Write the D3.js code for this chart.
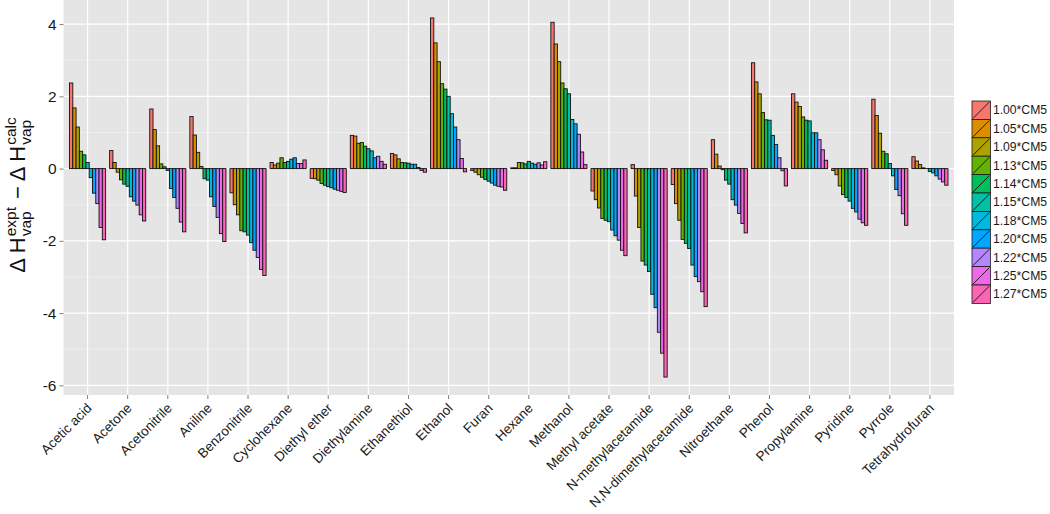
<!DOCTYPE html>
<html><head><meta charset="utf-8">
<script src="https://cdn.jsdelivr.net/npm/d3@7"></script>
<style>
body{margin:0;background:#fff;}
svg{display:block;font-family:"Liberation Sans",Arial,Helvetica,sans-serif;}
</style>
</head><body>
<svg id="chart" width="1050" height="514"></svg>
<script>
// ---------- DATA ----------
const categories = ["Acetic acid","Acetone","Acetonitrile","Aniline","Benzonitrile","Cyclohexane",
  "Diethyl ether","Diethylamine","Ethanethiol","Ethanol","Furan","Hexane","Methanol","Methyl acetate",
  "N-methylacetamide","N,N-dimethylacetamide","Nitroethane","Phenol","Propylamine","Pyridine","Pyrrole",
  "Tetrahydrofuran"];
const seriesLabels = ["1.00*CM5","1.05*CM5","1.09*CM5","1.13*CM5","1.14*CM5","1.15*CM5",
  "1.18*CM5","1.20*CM5","1.22*CM5","1.25*CM5","1.27*CM5"];
const seriesColors = ["#F8766D","#DB8E00","#AEA200","#64B200","#00BD5C","#00C1A7",
  "#00BADE","#00A6FF","#B385FF","#EF67EB","#FF63B6"];
const yTicks = [-6,-4,-2,0,2,4];
const yMinorTicks = [-5,-3,-1,1,3];

// values per category, one per series (1.00 ... 1.27 *CM5)
const aceticAcid      = [2.37, 1.68, 1.15, 0.48, 0.38, 0.17, -0.25, -0.68, -0.97, -1.63, -1.97];
const acetone         = [0.50, 0.17, -0.10, -0.31, -0.43, -0.49, -0.78, -0.90, -1.01, -1.28, -1.45];
const acetonitrile    = [1.65, 1.08, 0.63, 0.13, 0.05, -0.05, -0.55, -0.80, -1.10, -1.48, -1.75];
const aniline         = [1.44, 0.93, 0.45, 0.06, -0.28, -0.32, -0.78, -1.05, -1.35, -1.80, -2.02];
const benzonitrile    = [-0.67, -1.00, -1.28, -1.72, -1.75, -1.84, -2.05, -2.26, -2.46, -2.79, -2.96];
const cyclohexane     = [0.17, 0.10, 0.15, 0.30, 0.17, 0.20, 0.26, 0.30, 0.14, 0.14, 0.24];
const diethylEther    = [-0.27, -0.28, -0.32, -0.41, -0.46, -0.50, -0.53, -0.57, -0.60, -0.63, -0.66];
const diethylamine    = [0.92, 0.90, 0.70, 0.72, 0.62, 0.55, 0.49, 0.30, 0.34, 0.20, 0.12];
const ethanethiol     = [0.42, 0.38, 0.27, 0.17, 0.16, 0.15, 0.12, 0.12, 0.03, -0.05, -0.10];
const ethanol         = [4.17, 3.48, 2.96, 2.35, 2.20, 2.00, 1.52, 1.15, 0.80, 0.28, -0.09];
const furan           = [-0.05, -0.10, -0.17, -0.24, -0.30, -0.35, -0.40, -0.46, -0.49, -0.51, -0.60];
const hexane          = [0.02, 0.02, 0.17, 0.16, 0.13, 0.20, 0.15, 0.12, 0.16, 0.10, 0.19];
const methanol        = [4.05, 3.45, 2.96, 2.37, 2.21, 2.07, 1.36, 1.24, 0.95, 0.46, 0.11];
const methylAcetate   = [-0.62, -0.86, -1.09, -1.38, -1.43, -1.47, -1.70, -1.86, -1.98, -2.26, -2.41];
const nMethylacetamide   = [0.11, -0.76, -1.63, -2.56, -2.67, -2.85, -3.48, -3.85, -4.53, -5.11, -5.77];
const nnDimethylacetamide = [-0.44, -0.97, -1.43, -1.96, -2.07, -2.21, -2.67, -2.99, -3.13, -3.41, -3.82];
const nitroethane     = [0.80, 0.40, 0.07, -0.03, -0.32, -0.43, -0.86, -1.01, -1.24, -1.52, -1.78];
const phenol          = [2.93, 2.40, 2.07, 1.55, 1.35, 1.34, 0.92, 0.67, 0.30, -0.06, -0.48];
const propylamine     = [2.07, 1.84, 1.72, 1.43, 1.34, 1.32, 0.99, 0.99, 0.80, 0.52, 0.23];
const pyridine        = [-0.05, -0.17, -0.48, -0.72, -0.80, -0.90, -1.10, -1.20, -1.40, -1.50, -1.57];
const pyrrole         = [1.92, 1.47, 0.98, 0.48, 0.41, 0.14, -0.20, -0.58, -0.75, -1.25, -1.57];
const tetrahydrofuran = [0.33, 0.21, 0.11, 0.02, 0.00, -0.08, -0.12, -0.20, -0.29, -0.37, -0.46];

const valuesByCategory = [aceticAcid, acetone, acetonitrile, aniline, benzonitrile, cyclohexane,
  diethylEther, diethylamine, ethanethiol, ethanol, furan, hexane, methanol, methylAcetate,
  nMethylacetamide, nnDimethylacetamide, nitroethane, phenol, propylamine, pyridine, pyrrole,
  tetrahydrofuran];

// ---------- LAYOUT ----------
const svg = d3.select("#chart");
const panel = {left: 63.5, right: 954, top: 0, bottom: 395};

const rows = [];
categories.forEach((c, i) => {
  valuesByCategory[i].forEach((v, j) => rows.push({cat: c, series: seriesLabels[j], value: v}));
});

const x = d3.scaleBand().domain(categories)
  .range([panel.left, panel.right]).paddingInner(0).paddingOuter(0.1);
const xInner = d3.scaleBand().domain(seriesLabels)
  .range([x.bandwidth()*0.05, x.bandwidth()*0.95]).padding(0);
const yExt = d3.extent(rows, d => d.value);
const ySpan = yExt[1] - yExt[0];
const y = d3.scaleLinear().domain([yExt[0] - 0.05*ySpan, yExt[1] + 0.05*ySpan])
  .range([panel.bottom, panel.top]);
const color = d3.scaleOrdinal().domain(seriesLabels).range(seriesColors);

// panel background
svg.append("rect").attr("x", panel.left).attr("y", panel.top)
  .attr("width", panel.right - panel.left).attr("height", panel.bottom - panel.top)
  .attr("fill", "#E5E5E5");

// grid
const grid = svg.append("g");
grid.selectAll(".ymin").data(yMinorTicks).join("line")
  .attr("x1", panel.left).attr("x2", panel.right)
  .attr("y1", d => y(d)).attr("y2", d => y(d))
  .attr("stroke", "#F2F2F2").attr("stroke-width", 0.6);
grid.selectAll(".ymaj").data(yTicks).join("line")
  .attr("x1", panel.left).attr("x2", panel.right)
  .attr("y1", d => y(d)).attr("y2", d => y(d))
  .attr("stroke", "#FFFFFF").attr("stroke-width", 1.2);
grid.selectAll(".xmaj").data(categories).join("line")
  .attr("x1", d => x(d) + x.bandwidth()/2).attr("x2", d => x(d) + x.bandwidth()/2)
  .attr("y1", panel.top).attr("y2", panel.bottom)
  .attr("stroke", "#FFFFFF").attr("stroke-width", 1.2);

// bars
svg.append("g").selectAll("rect").data(rows).join("rect")
  .attr("x", d => x(d.cat) + xInner(d.series))
  .attr("width", xInner.bandwidth())
  .attr("y", d => Math.min(y(d.value), y(0)))
  .attr("height", d => Math.max(Math.abs(y(d.value) - y(0)), 0.01))
  .attr("fill", d => color(d.series))
  .attr("stroke", "#111").attr("stroke-width", 0.9);

// axes
const yAxis = svg.append("g").attr("transform", `translate(${panel.left},0)`)
  .call(d3.axisLeft(y).tickValues(yTicks).tickSize(4).tickPadding(3).tickFormat(d => String(d)));
yAxis.select(".domain").remove();
yAxis.selectAll(".tick line").attr("stroke", "#7f7f7f");
yAxis.selectAll(".tick text").attr("fill", "#1a1a1a").style("font-size", "15.5px")
  .style("font-family", '"Liberation Sans",Arial,sans-serif');

const xAxis = svg.append("g").attr("transform", `translate(0,${panel.bottom})`)
  .call(d3.axisBottom(x).tickSize(4).tickPadding(2));
xAxis.select(".domain").remove();
xAxis.selectAll(".tick line").attr("stroke", "#7f7f7f");
xAxis.selectAll(".tick text")
  .attr("fill", "#1a1a1a").style("font-size", "13.5px")
  .style("font-family", '"Liberation Sans",Arial,sans-serif')
  .attr("text-anchor", "end").attr("dy", null).attr("y", 0)
  .attr("transform", "translate(5,14) rotate(-45)");

// y-axis title with stacked sub/superscripts
const tg = svg.append("g").attr("transform", "translate(25,195) rotate(-90)");
const mainSize = 22, scriptSize = 15.5;
const parts = [
  {t: "\u0394 H", sup: "expt", sub: "vap", gapBefore: 0},
  {t: "\u2212  \u0394 H", sup: "calc", sub: "vap", gapBefore: 8}
];
let cursor = 0;
parts.forEach(p => {
  cursor += p.gapBefore;
  const m = tg.append("text").attr("x", cursor).attr("y", 0)
    .style("font-size", mainSize + "px").attr("fill", "#111").text(p.t);
  cursor += m.node().getComputedTextLength() + 1;
  const sp = tg.append("text").attr("x", cursor).attr("y", -9)
    .style("font-size", scriptSize + "px").attr("fill", "#111").text(p.sup);
  const sb = tg.append("text").attr("x", cursor).attr("y", 6)
    .style("font-size", scriptSize + "px").attr("fill", "#111").text(p.sub);
  cursor += Math.max(sp.node().getComputedTextLength(), sb.node().getComputedTextLength());
});
tg.selectAll("text").attr("transform", `translate(${-cursor/2},0)`);

// legend
const key = 18.4;
const leg = svg.append("g").attr("transform", "translate(972,101)");
const li = leg.selectAll("g").data(seriesLabels).join("g")
  .attr("transform", (d, i) => `translate(0,${i*key})`);
li.append("rect").attr("width", key).attr("height", key)
  .attr("fill", d => color(d)).attr("stroke", "#1a1a1a").attr("stroke-width", 0.8);
li.append("line").attr("x1", 1).attr("y1", key - 1).attr("x2", key - 1).attr("y2", 1)
  .attr("stroke", "#111").attr("stroke-width", 0.9);
li.append("text").attr("x", key + 2.5).attr("y", key/2).attr("dy", "0.35em")
  .style("font-size", "12.2px").attr("fill", "#1a1a1a").text(d => d);
</script>
</body></html>
